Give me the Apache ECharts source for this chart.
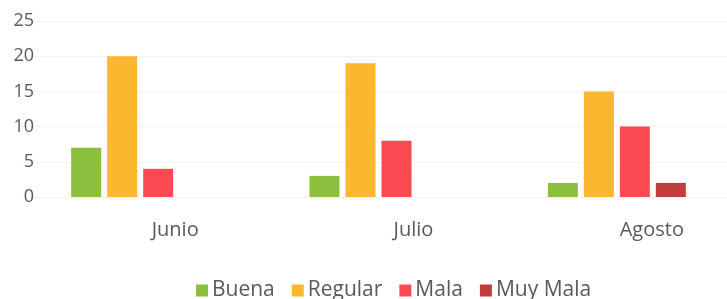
<!DOCTYPE html>
<html>
<head>
<meta charset="utf-8">
<script src="https://cdn.jsdelivr.net/npm/echarts@6/dist/echarts.min.js"></script>
<style>html,body{margin:0;padding:0;background:#fff;overflow:hidden;width:727px;height:299px;}#c{width:770px;height:299px;}</style>
</head>
<body>
<div id="c"></div>
<script>
const categories = ['Junio', 'Julio', 'Agosto'];
const seriesNames = ['Buena', 'Regular', 'Mala', 'Muy Mala'];
const buena = [7, 3, 2];
const regular = [20, 19, 15];
const mala = [4, 8, 10];
const muyMala = [null, null, 2];
const yTicks = [0, 5, 10, 15, 20, 25];

const colors = ['#8dbf3f', '#fbb72f', '#fb4a52', '#c23c3e'];
const values = [buena, regular, mala, muyMala];
const font = '"Open Sans", "Liberation Sans", sans-serif';

const chart = echarts.init(document.getElementById('c'), null, {renderer: 'canvas'});
chart.setOption({
  animation: false,
  color: colors,
  grid: {left: 21, width: 715, top: 21, height: 176},
  legend: {
    data: seriesNames,
    left: 191, top: 275,
    itemWidth: 12, itemHeight: 12, itemGap: 17,
    icon: 'rect',
    textStyle: {fontFamily: font, fontSize: 21, color: '#595959', padding: [0,0,0,-1]}
  },
  xAxis: {
    type: 'category',
    data: categories,
    axisLine: {show: false},
    axisTick: {show: false},
    axisLabel: {fontFamily: font, fontSize: 20, color: '#595959', margin: 23, padding: [0,0,0,70]}
  },
  yAxis: {
    type: 'value',
    min: yTicks[0], max: yTicks[yTicks.length-1], interval: 5,
    offset: -22,
    axisLine: {show: false},
    axisTick: {show: false},
    axisLabel: {fontFamily: font, fontSize: 18, color: '#595959', margin: 9},
    splitLine: {lineStyle: {color: '#f3f3f3', width: 1}}
  },
  series: seriesNames.map((n, i) => ({
    name: n,
    type: 'bar',
    data: values[i],
    barWidth: 30,
    barGap: '20%',
    itemStyle: {color: colors[i]}
  }))
});
</script>
</body>
</html>
